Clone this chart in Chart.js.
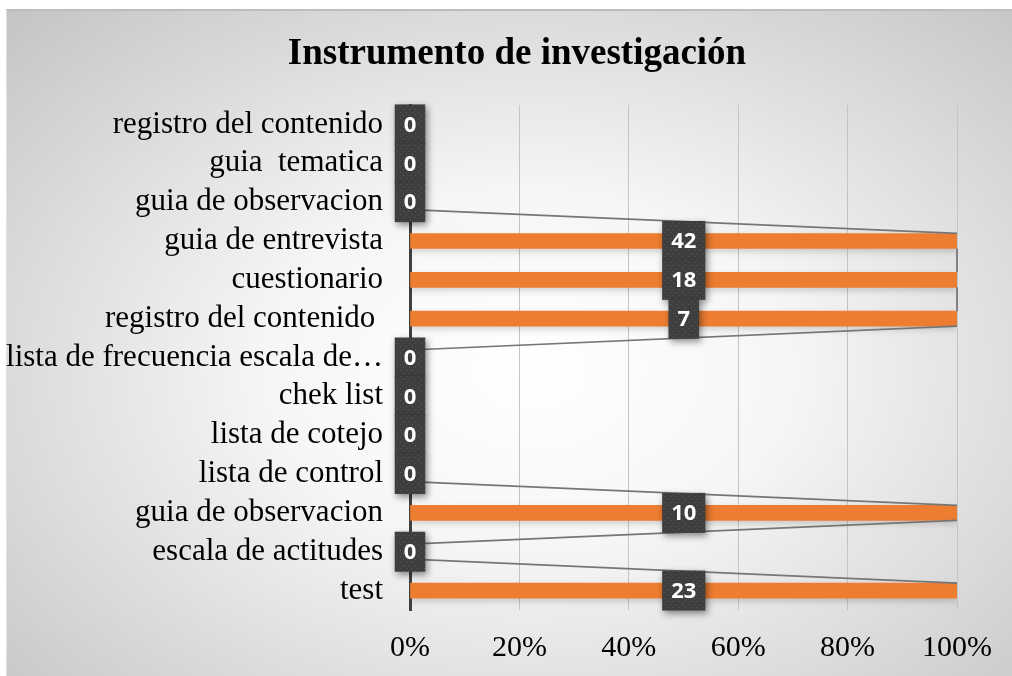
<!DOCTYPE html>
<html>
<head>
<meta charset="utf-8">
<script src="https://cdn.jsdelivr.net/npm/chart.js@4.4.1/dist/chart.umd.min.js"></script>
<style>
  html, body { margin: 0; padding: 0; background: #fff; }
  #frame {
    position: absolute; left: 6px; top: 9px; right: 0; bottom: 0;
    border-top: 2px solid #bdbdbd; border-left: 1px solid #e2e2e2;
    background: radial-gradient(farthest-corner at 52% 54%, #ffffff 0%, #f6f6f6 35%, #c4c4c4 100%);
  }
  #chart { position: absolute; left: 0; top: 0; }
</style>
</head>
<body>
<div id="frame"></div>
<canvas id="chart" width="1012" height="676"></canvas>
<script>
'use strict';

const TITLE = 'Instrumento de investigación';
// categorías de arriba hacia abajo
const categories = [
  'registro del contenido', 'guia  tematica', 'guia de observacion', 'guia de entrevista',
  'cuestionario', 'registro del contenido ', 'lista de frecuencia escala de…', 'chek list',
  'lista de cotejo', 'lista de control', 'guia de observacion', 'escala de actitudes', 'test'
];
const counts = [0, 0, 0, 42, 18, 7, 0, 0, 0, 0, 10, 0, 23];
const xTicks = [0, 20, 40, 60, 80, 100];

// barra 100% apilada con una sola serie: cada valor es el 100% de su categoría
const shares = counts.map((v) => (v > 0 ? (v / v) * 100 : 0));

const ORANGE = '#ED7D31';
const SERIF = "'Liberation Serif', 'Times New Roman', serif";

function boxPattern(ctx) {
  const c = document.createElement('canvas');
  c.width = 6; c.height = 6;
  const p = c.getContext('2d');
  p.fillStyle = '#3e3e3e';
  p.fillRect(0, 0, 6, 6);
  p.fillStyle = '#575757';
  p.fillRect(1, 1, 1, 1);
  p.fillRect(4, 4, 1, 1);
  return ctx.createPattern(c, 'repeat');
}

// título centrado como en Excel (un poco a la derecha del centro del lienzo)
const chartTitle = {
  id: 'chartTitle',
  afterDraw(chart) {
    const ctx = chart.ctx;
    ctx.save();
    ctx.font = 'bold 37px ' + SERIF;
    ctx.fillStyle = '#000';
    ctx.textAlign = 'center';
    ctx.textBaseline = 'middle';
    ctx.fillText(TITLE, 517, 54);
    ctx.restore();
  }
};

const barShadow = {
  id: 'barShadow',
  beforeDatasetsDraw(chart) {
    const ctx = chart.ctx;
    ctx.save();
    ctx.shadowColor = 'rgba(0,0,0,0.16)';
    ctx.shadowBlur = 6;
    ctx.shadowOffsetY = 3;
  },
  afterDatasetsDraw(chart) {
    chart.ctx.restore();
  }
};

// líneas de serie + etiquetas de datos
const seriesExtras = {
  id: 'seriesExtras',
  afterDatasetsDraw(chart) {
    const ctx = chart.ctx;
    const bars = chart.getDatasetMeta(0).data;

    ctx.save();
    ctx.strokeStyle = '#767676';
    ctx.lineWidth = 1.75;
    for (let i = 0; i < bars.length - 1; i++) {
      const a = bars[i], b = bars[i + 1];
      ctx.beginPath();
      ctx.moveTo(a.x, a.y + a.height / 2);
      ctx.lineTo(b.x, b.y - b.height / 2);
      ctx.stroke();
    }
    ctx.restore();

    ctx.save();
    ctx.font = "bold 22px 'Open Sans', sans-serif";
    ctx.textAlign = 'center';
    ctx.textBaseline = 'middle';
    const pat = boxPattern(ctx);
    bars.forEach((bar, i) => {
      const txt = String(counts[i]);
      const cx = (bar.x + bar.base) / 2;
      const w = ctx.measureText(txt).width + 18;
      const h = 40;
      ctx.save();
      ctx.shadowColor = 'rgba(0,0,0,0.45)';
      ctx.shadowBlur = 7;
      ctx.shadowOffsetX = 2;
      ctx.shadowOffsetY = 3;
      ctx.fillStyle = pat;
      ctx.fillRect(cx - w / 2, bar.y - h / 2, w, h);
      ctx.restore();
      ctx.fillStyle = '#fff';
      ctx.fillText(txt, cx, bar.y + 1);
    });
    ctx.restore();
  }
};

new Chart(document.getElementById('chart'), {
  type: 'bar',
  data: {
    labels: categories,
    datasets: [{
      data: shares,
      backgroundColor: ORANGE,
      barThickness: 15
    }]
  },
  options: {
    indexAxis: 'y',
    responsive: false,
    animation: false,
    layout: { padding: { left: 0, right: 54, top: 105, bottom: 0 } },
    plugins: {
      legend: { display: false },
      tooltip: { enabled: false },
      title: { display: false }
    },
    scales: {
      x: {
        stacked: true,
        min: 0,
        max: 100,
        afterBuildTicks: (s) => { s.ticks = xTicks.map((v) => ({ value: v })); },
        afterFit: (s) => { s.height = 66; },
        ticks: {
          callback: (v) => v + '%',
          color: '#000',
          font: { family: SERIF, size: 30 },
          padding: 20,
          maxRotation: 0
        },
        grid: { color: '#c4c4c4', lineWidth: 1, drawTicks: false },
        border: { display: false }
      },
      y: {
        stacked: true,
        afterFit: (s) => { s.width = 410; },
        ticks: {
          color: '#000',
          font: { family: SERIF, size: 31 },
          padding: 27,
          autoSkip: false
        },
        grid: { display: false, drawTicks: false },
        border: { display: true, color: '#404040', width: 3 }
      }
    }
  },
  plugins: [chartTitle, barShadow, seriesExtras]
});
</script>
</body>
</html>
